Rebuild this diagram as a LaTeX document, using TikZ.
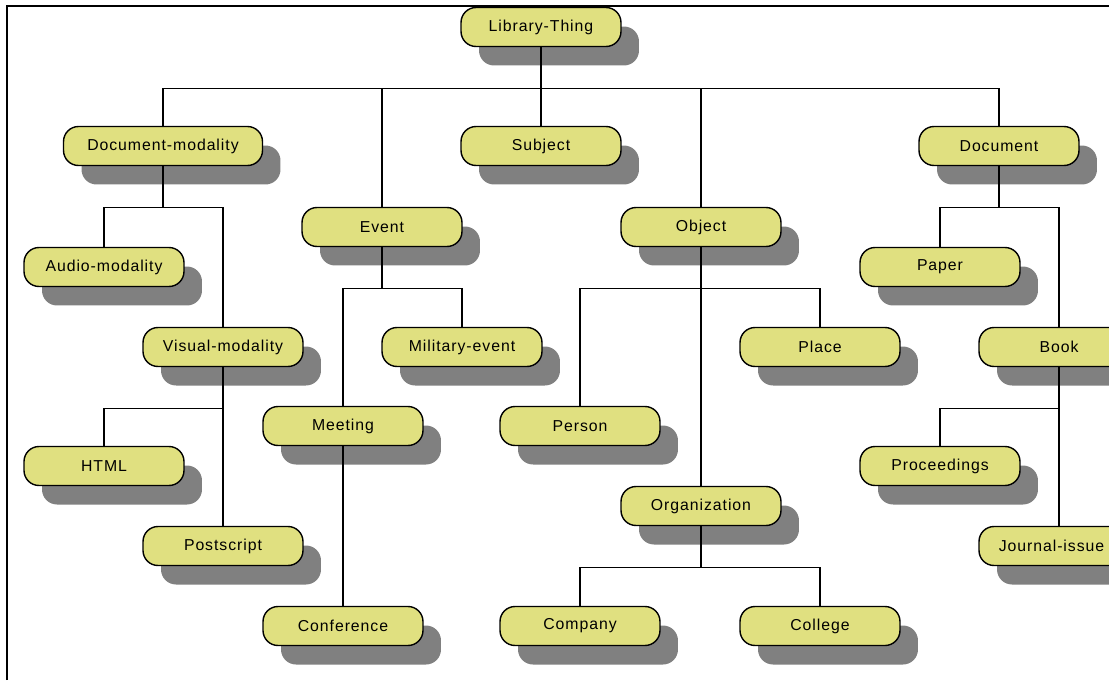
\documentclass[tikz,border=0pt]{standalone}
\usepackage{fontspec}
\setmainfont{Liberation Sans}[LetterSpace=6]
\usetikzlibrary{shadows}
\definecolor{clsfill}{RGB}{224,224,128}
\definecolor{clsshadow}{RGB}{128,128,128}

\begin{document}
\begin{tikzpicture}[x=0.02cm, y=-0.02cm,
    cls/.style={draw, line width=0.8pt, fill=clsfill, rounded corners=0.3cm,
      minimum width=3.2cm, minimum height=0.78cm, inner sep=1pt,
      font=\fontsize{9}{11}\selectfont,
      drop shadow={shadow xshift=0.36cm, shadow yshift=-0.38cm,
        fill=clsshadow, opacity=1}},
    wide/.style={cls, minimum width=3.98cm},
    link/.style={line width=0.8pt}]
  \useasboundingbox (0,0) rectangle (1109,680);
  \clip (0,0) rectangle (1109,680);

  % classes
  \node[cls]  (lib)        at (541,27)  {Library-Thing};
  \node[wide] (docmod)     at (163,146) {Document-modality};
  \node[cls]  (subject)    at (541,146) {Subject};
  \node[cls]  (document)   at (999,146) {Document};
  \node[cls]  (event)      at (382,227) {Event};
  \node[cls]  (object)     at (701,227) {Object};
  \node[cls]  (audio)      at (104,267) {Audio-modality};
  \node[cls]  (paper)      at (940,267) {Paper};
  \node[cls]  (visual)     at (223,347) {Visual-modality};
  \node[cls]  (military)   at (462,347) {Military-event};
  \node[cls]  (place)      at (820,347) {Place};
  \node[cls]  (book)       at (1059,347) {Book};
  \node[cls]  (meeting)    at (343,426) {Meeting};
  \node[cls]  (person)     at (580,426) {Person};
  \node[cls]  (html)       at (104,466) {HTML};
  \node[cls]  (proc)       at (940,466) {Proceedings};
  \node[cls]  (org)        at (701,506) {Organization};
  \node[cls]  (postscript) at (223,546) {Postscript};
  \node[cls]  (journal)    at (1059,546) {Journal-issue\hspace*{0.3cm}};
  \node[cls]  (conf)       at (343,626) {Conference};
  \node[cls]  (company)    at (580,626) {Company};
  \node[cls]  (college)    at (820,626) {College};

  % tree links
  \foreach \p/\c in {lib/docmod, lib/event, lib/subject, lib/object, lib/document,
      docmod/audio, docmod/visual, event/meeting, event/military,
      object/person, object/place, object/org, document/paper, document/book,
      visual/html, visual/postscript, meeting/conf, book/proc, book/journal,
      org/company, org/college}{
    \draw[link] (\p.south) -- ++(0,41) -| (\c.north);
  };

  % frame
  \draw[line width=0.04cm] (7,680) -- (7,6) -- (1109,6);
\end{tikzpicture}
\end{document}
